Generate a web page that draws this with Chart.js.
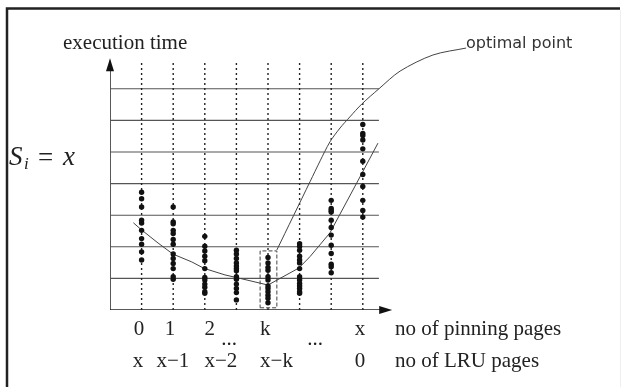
<!DOCTYPE html>
<html>
<head>
<meta charset="utf-8">
<script src="https://cdn.jsdelivr.net/npm/chart.js@4"></script>
<style>
  html, body { margin: 0; padding: 0; background: #fff; }
  canvas { display: block; }
</style>
</head>
<body>
<canvas id="chart" width="622" height="387"></canvas>
<script>
// column positions (pinning pages 0,1,2,...,k,...,x)
const columnX = [1, 2, 3, 4, 5, 6, 7, 8];

// measured execution times at each column
const columnDots = [
  [3.73, 3.52, 3.26, 2.84, 2.75, 2.52, 2.26, 2.08, 1.84, 1.58],
  [3.26, 2.79, 2.73, 2.52, 2.42, 2.23, 2.08, 1.77, 1.63, 1.47, 1.31, 1.05, 0.97],
  [2.33, 2.02, 1.87, 1.70, 1.56, 1.31, 1.03, 0.95, 0.82, 0.72, 0.58, 0.53],
  [1.89, 1.77, 1.63, 1.49, 1.39, 1.31, 1.24, 1.05, 0.97, 0.82, 0.68, 0.55, 0.32],
  [1.66, 1.49, 1.35, 1.26, 1.05, 0.95, 0.76, 0.68, 0.58, 0.47, 0.37, 0.23],
  [2.10, 2.02, 1.89, 1.70, 1.58, 1.49, 1.31, 1.05, 0.95, 0.84, 0.76, 0.68, 0.58, 0.53],
  [3.47, 3.21, 3.15, 3.10, 2.84, 2.61, 2.37, 2.05, 1.79, 1.45, 1.37, 1.18],
  [5.87, 5.59, 5.52, 5.38, 5.10, 4.71, 4.29, 3.91, 3.47, 3.15, 2.94]
];

// the two curves
const lowerCurveX = [0.74, 0.98, 1.52, 1.99, 2.59, 2.97, 3.64, 3.99, 5.0, 5.98, 6.33, 6.96, 7.91, 8.48];
const lowerCurveY = [2.76, 2.55, 2.12, 1.77, 1.52, 1.32, 1.11, 1.03, 0.79, 1.33, 1.69, 2.44, 4.21, 5.28];
const upperCurveX = [5.28, 6.33, 6.65, 6.96, 7.28, 7.59, 7.97, 8.51, 9.18, 10.22, 11.27];
const upperCurveY = [1.90, 4.06, 4.72, 5.32, 5.76, 6.11, 6.52, 7.00, 7.56, 8.07, 8.29];

// frame of the plot
const gridLevels = [1, 2, 3, 4, 5, 6, 7];
const gridRight = 8.51;
const dottedTop = 7.91;
const xAxisEnd = 8.93;
const yAxisEnd = 7.97;
const boxX = [4.75, 5.28];
const boxY = [0.07, 1.87];

// tick labels under the axis
const pinningLabels = ["0", "1", "2", "k", "x"];
const pinningTickX = [0.92, 1.90, 3.16, 4.91, 7.91];
const lruLabels = ["x", "x\u22121", "x\u22122", "x\u2212k", "0"];
const lruTickX = [0.89, 1.99, 3.51, 5.27, 7.91];
const ellipsisX = [3.77, 6.49];

const ink = "#222";
const lineGray = "#555";

function lineSet(points, extra) {
  return Object.assign({
    data: points,
    showLine: true,
    pointRadius: 0,
    borderColor: lineGray,
    borderWidth: 1,
    fill: false,
    tension: 0
  }, extra || {});
}

const datasets = [];

columnDots.forEach((vals, i) => {
  datasets.push({
    data: vals.map(v => ({ x: columnX[i], y: v })),
    showLine: false,
    pointRadius: 2.7,
    pointBackgroundColor: "#111",
    pointBorderWidth: 0
  });
});

datasets.push(lineSet(lowerCurveX.map((x, i) => ({ x, y: lowerCurveY[i] })), { borderColor: "#444" }));
datasets.push(lineSet(upperCurveX.map((x, i) => ({ x, y: upperCurveY[i] })), {
  borderColor: "#444", tension: 0.3
}));

datasets.push(lineSet([
  { x: boxX[0], y: boxY[0] }, { x: boxX[1], y: boxY[0] },
  { x: boxX[1], y: boxY[1] }, { x: boxX[0], y: boxY[1] },
  { x: boxX[0], y: boxY[0] }
], { borderDash: [4, 2], borderColor: "#444" }));

columnX.forEach(x => {
  datasets.push(lineSet([{ x, y: 0 }, { x, y: dottedTop }], {
    borderDash: [2, 3], borderColor: "#222", borderWidth: 1.4
  }));
});

gridLevels.forEach(y => {
  datasets.push(lineSet([{ x: 0, y }, { x: gridRight, y }], { borderColor: "#555", borderWidth: 1.1 }));
});

// axes
datasets.push(lineSet([{ x: 0, y: 0 }, { x: xAxisEnd - 0.3, y: 0 }], { borderColor: "#222", borderWidth: 1.5 }));
datasets.push(lineSet([{ x: 0, y: 0 }, { x: 0, y: yAxisEnd - 0.3 }], { borderColor: "#222", borderWidth: 1.5 }));

const decorations = {
  id: "decorations",
  beforeDraw(chart) {
    const c = chart.ctx;
    c.save();
    c.fillStyle = "#fff";
    c.fillRect(0, 0, chart.width, chart.height);
    c.strokeStyle = "#222";
    c.lineWidth = 2.5;
    c.beginPath();
    c.moveTo(7, 387);
    c.lineTo(7, 8.5);
    c.lineTo(620, 8.5);
    c.stroke();
    c.strokeStyle = "#eee";
    c.lineWidth = 1;
    c.beginPath();
    c.moveTo(620.5, 10);
    c.lineTo(620.5, 387);
    c.stroke();
    c.restore();
  },
  afterDraw(chart) {
    const c = chart.ctx;
    const xs = chart.scales.x, ys = chart.scales.y;
    const x0 = xs.getPixelForValue(0), y0 = ys.getPixelForValue(0);
    c.save();
    c.fillStyle = "#111";

    // arrow heads
    const xe = xs.getPixelForValue(xAxisEnd);
    c.beginPath();
    c.moveTo(xe, y0);
    c.lineTo(xe - 13, y0 - 4);
    c.lineTo(xe - 13, y0 + 4);
    c.closePath();
    c.fill();
    const ye = ys.getPixelForValue(yAxisEnd);
    c.beginPath();
    c.moveTo(x0, ye);
    c.lineTo(x0 - 4, ye + 13);
    c.lineTo(x0 + 4, ye + 13);
    c.closePath();
    c.fill();

    c.fillStyle = ink;
    c.textBaseline = "alphabetic";
    const serif = "21px 'Liberation Serif', 'DejaVu Serif', serif";
    c.font = serif;
    c.textAlign = "left";
    c.fillText("execution time", 63, 49);
    c.fillText("no of pinning pages", 395, y0 + 25);
    c.fillText("no of LRU pages", 395, y0 + 57);

    c.textAlign = "center";
    pinningLabels.forEach((t, i) => c.fillText(t, xs.getPixelForValue(pinningTickX[i]), y0 + 25));
    lruLabels.forEach((t, i) => c.fillText(t, xs.getPixelForValue(lruTickX[i]), y0 + 57));
    ellipsisX.forEach(x => c.fillText("...", xs.getPixelForValue(x), y0 + 35));

    // S_i = x
    c.textAlign = "left";
    c.font = "italic 27px 'Liberation Serif', serif";
    c.fillText("S", 9, 165);
    c.font = "italic 17px 'Liberation Serif', serif";
    c.fillText("i", 24, 169);
    c.font = "27px 'Liberation Serif', serif";
    c.fillText("=", 38, 166);
    c.font = "italic 27px 'Liberation Serif', serif";
    c.fillText("x", 63, 165);

    c.font = "16px 'DejaVu Sans', sans-serif";
    c.fillStyle = "#333";
    c.fillText("optimal point", 466, 48);
    c.restore();
  }
};

new Chart(document.getElementById("chart").getContext("2d"), {
  type: "scatter",
  data: { datasets },
  options: {
    responsive: false,
    animation: false,
    devicePixelRatio: 1,
    events: [],
    layout: { padding: { left: 110, right: 6.4, top: 9.8, bottom: 77 } },
    plugins: { legend: { display: false }, tooltip: { enabled: false } },
    scales: {
      x: { type: "linear", min: 0, max: 16, display: false },
      y: { type: "linear", min: 0, max: 9.5, display: false }
    }
  },
  plugins: [decorations]
});
</script>
</body>
</html>
